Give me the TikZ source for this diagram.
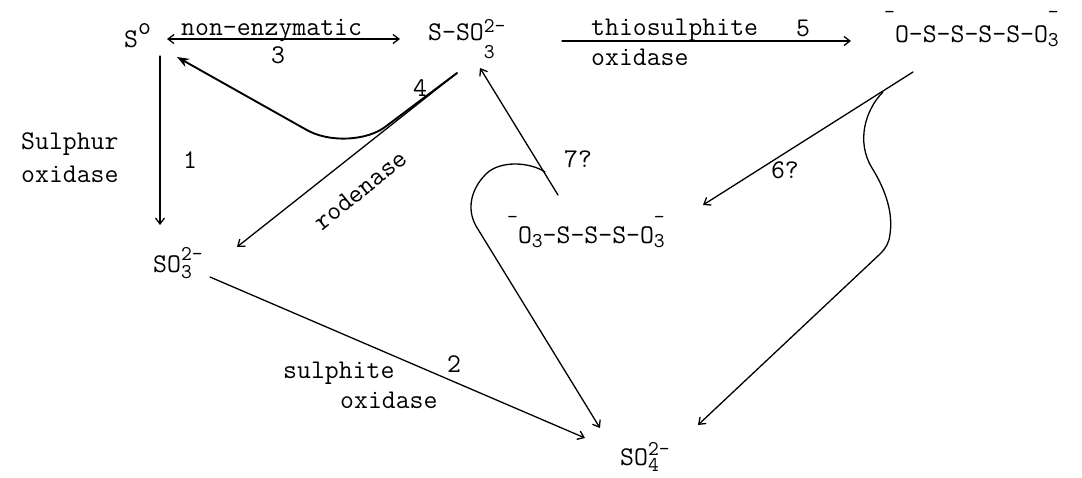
\documentclass[tikz,border=0pt]{standalone}
\usepackage{fontspec}
\usetikzlibrary{arrows.meta}
\newcommand\sm{\fontsize{21}{21}\selectfont}
\newcommand\rs[2]{\raisebox{#1}{\sm #2}}
\newcommand\st[4]{\rlap{\rs{#1}{#2}}\rs{#3}{#4}}
\begin{document}
\begin{tikzpicture}[x=1pt,y=-1pt,
  every node/.style={inner sep=0pt,font=\fontsize{27}{33}\selectfont\ttfamily},
  chem/.style={anchor=base west},
  lbl/.style={anchor=center},
  wire/.style={line width=1.3pt,line cap=round},
  arr/.style={wire,-{Straight Barb[length=6pt,width=9pt]}},
  darr/.style={wire,{Straight Barb[length=6pt,width=9pt]}-{Straight Barb[length=6pt,width=9pt]}},
  bold/.style={line width=1.9pt,line cap=round,-{Stealth[length=12pt,width=9pt]}}]
\useasboundingbox (0,0) rectangle (1082,477);
% compounds
\node[chem] (S0) at (124,47) {S\raisebox{13pt}{\fontsize{25}{25}\selectfont o}};
\node[chem] (SSO) at (428,40) {S-SO\st{8pt}{2-}{-18pt}{3}};
\node[chem] (PROD) at (884,42) {\rs{24pt}{-}O-S-S-S-S-O\st{24pt}{-}{-4pt}{3}};
\node[chem] (SO3) at (153,272) {SO\st{12pt}{2-}{-6pt}{3}};
\node[chem] (SO4) at (620,465) {SO\st{10pt}{2-}{-6pt}{4}};
\node[chem] (MID) at (507,243) {\rs{20pt}{-}O\rs{-4pt}{3}-S-S-S-O\st{20pt}{-}{-4pt}{3}};
% labels
\node[chem] (nonenz) at (181,35) {non-enzymatic};
\node[lbl] (n3) at (278,55) {3};
\node[chem] (thio) at (591,35) {thiosulphite};
\node[lbl] (n5) at (803,28) {5};
\node[chem] (thiox) at (591,65) {oxidase};
\node[anchor=west,align=left] (sulox) at (21,158) {Sulphur\\oxidase};
\node[lbl] (n1) at (190,160) {1};
\node[lbl] (n4) at (420,88) {4};
\node[lbl,rotate=39] (rod) at (360,190) {rodenase};
\node[lbl] (n7) at (578,159) {7?};
\node[lbl] (n6) at (785,170) {6?};
\node[lbl] (n2) at (454,364) {2};
\node[chem] (sulf) at (283,378) {sulphite};
\node[chem] (sulfox) at (340,408) {oxidase};
% connector ends
\coordinate (a1s) at (160,56);  \coordinate (a1e) at (160,225);
\coordinate (a3s) at (167,39);  \coordinate (a3e) at (400,39);
\coordinate (a5s) at (562,41);  \coordinate (a5e) at (851,41);
\coordinate (a4s) at (457,73);  \coordinate (a4e) at (177,57);
\coordinate (ars) at (457,73);  \coordinate (are) at (237,247);
\coordinate (a2s) at (210,277); \coordinate (a2e) at (585,438);
\coordinate (a7s) at (558,195); \coordinate (a7e) at (480,68);
\coordinate (l7s) at (545,172); \coordinate (l7e) at (600,428);
\coordinate (a6s) at (913,72);  \coordinate (a6e) at (703,205);
\coordinate (rcs) at (883,92);  \coordinate (rce) at (698,425);
% connectors
\draw[arr] (a1s) -- (a1e);
\draw[darr] (a3s) -- (a3e);
\draw[arr] (a5s) -- (a5e);
\draw[bold] (a4s) -- (385,127) .. controls (368,140) and (330,144) .. (305,129) -- (a4e);
\draw[arr] (ars) -- (are);
\draw[arr] (a2s) -- (a2e);
\draw[arr] (a7s) -- (a7e);
\draw[arr] (l7s) .. controls (530,162) and (500,160) .. (486,174) .. controls (470,190) and (467,210) .. (476,226) -- (l7e);
\draw[arr] (a6s) -- (a6e);
\draw[arr] (rcs) .. controls (865,110) and (856,142) .. (872,168) .. controls (887,192) and (893,215) .. (890,234) .. controls (889,243) and (886,248) .. (880,254) -- (rce);
\end{tikzpicture}
\end{document}
